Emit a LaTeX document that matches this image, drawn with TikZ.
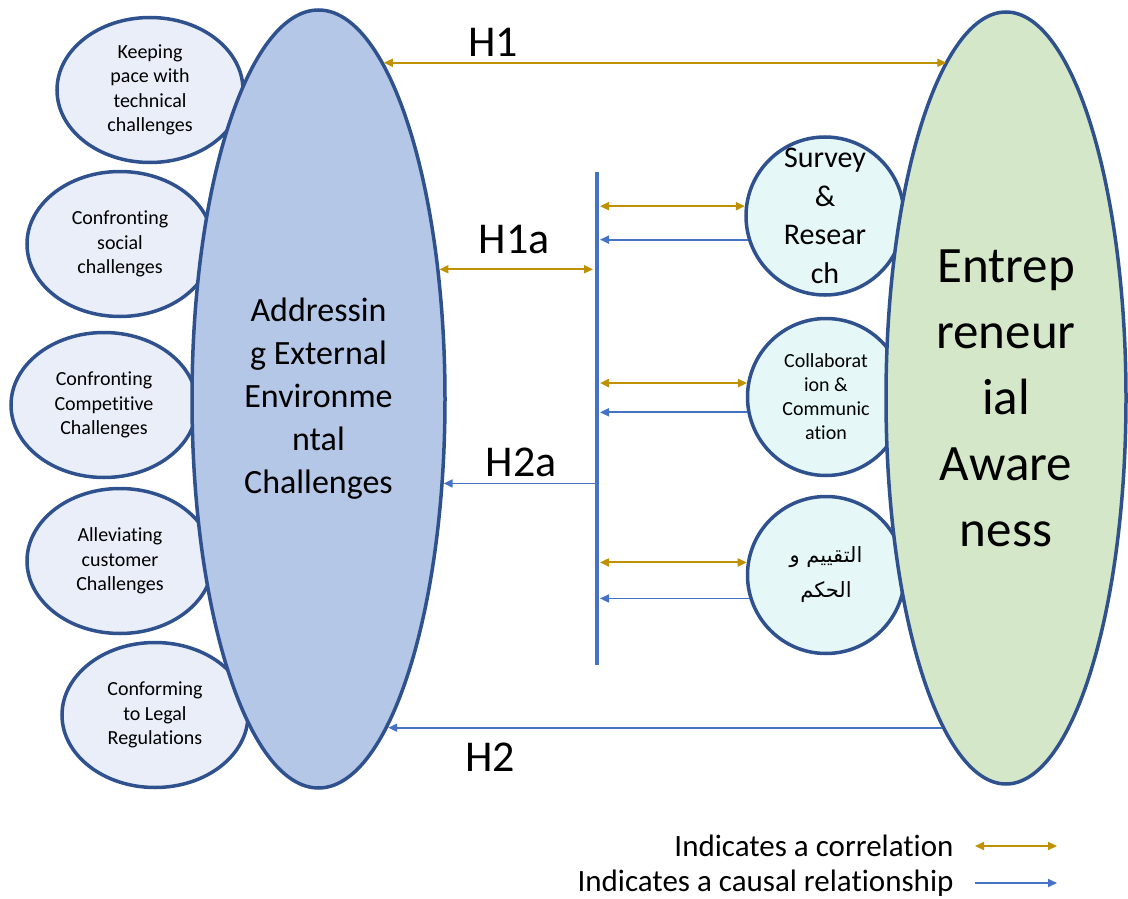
\documentclass[tikz,border=0pt]{standalone}
\usepackage{fontspec}
\setmainfont{Carlito}[Ligatures=NoCommon]
\newfontfamily\arabicfont[Script=Arabic]{DejaVu Sans}
\TeXXeTstate=1
\usetikzlibrary{shapes.geometric,arrows.meta}
\definecolor{edgeblue}{HTML}{2F528F}
\definecolor{addrfill}{HTML}{B4C7E7}
\definecolor{chalfill}{HTML}{E9EEF8}
\definecolor{awarefill}{HTML}{D4E7C8}
\definecolor{topicfill}{HTML}{E6F7F7}
\definecolor{corrgold}{HTML}{BF9000}
\definecolor{causblue}{HTML}{4472C4}

\begin{document}
\begin{tikzpicture}[x=1pt,y=-1pt,
    chal/.style={ellipse, draw=edgeblue, line width=3.5pt, fill=chalfill, minimum width=186pt, minimum height=145pt, inner sep=0pt, align=center, font=\fontsize{20}{24.5}\selectfont},
    topic/.style={circle, draw=edgeblue, line width=3.5pt, fill=topicfill, minimum size=157pt, inner sep=0pt, align=center},
    corr/.style={draw=corrgold, line width=2pt, {Triangle[length=9pt,width=8pt]}-{Triangle[length=9pt,width=8pt]}},
    caus/.style={draw=causblue, line width=1.8pt, -{Triangle[length=9pt,width=8pt]}},
    hyp/.style={font=\fontsize{44}{50}\selectfont}]
       \useasboundingbox (0,0) rectangle (1128,899);

       % challenges on the left
       \node[chal] (tech) at (150,90) {Keeping\\pace with\\technical\\challenges};
       \node[chal] (social) at (120,244) {Confronting\\social\\challenges};
       \node[chal] (compet) at (104,405) {Confronting\\Competitive\\Challenges};
       \node[chal] (custom) at (120,561) {Alleviating\\customer\\Challenges};
       \node[chal] (legal) at (155,715) {Conforming\\to Legal\\Regulations};
       \node[ellipse, draw=edgeblue, line width=3.5pt, fill=addrfill, minimum width=253pt, minimum height=778pt, inner sep=0pt, align=center, font=\fontsize{34}{43}\selectfont] (addr) at (318.5,399) {Addressin\\g External\\Environme\\ntal\\Challenges};

       % dimensions on the right
       \node[topic, font=\fontsize{30}{38.5}\selectfont] (survey) at (825,216) {Survey\\\&\\Resear\\ch};
       \node[topic, font=\fontsize{20}{24}\selectfont] (collab) at (826,397) {Collaborat\\ion \&\\Communic\\ation};
       \node[topic, font=\fontsize{21}{35}\selectfont\arabicfont] (judge) at (826,575) {\beginR التقييم و\endR\\\beginR الحكم\endR};
       \node[ellipse, draw=edgeblue, line width=3.5pt, fill=awarefill, minimum width=240pt, minimum height=772pt, inner sep=0pt, align=center, font=\fontsize{51}{66}\selectfont] (entre) at (1006,398) {Entrep\\reneur\\ial\\Aware\\ness};

       % vertical bar
       \coordinate (bartop) at (597,172);
       \coordinate (barbot) at (597,665);
       \draw[causblue, line width=4pt] (bartop) -- (barbot);

       \draw[corr] (survey.173 -| bartop) [shorten <=3pt] -- (survey.173);
       \draw[caus, shorten >=3pt] (survey.197) -- (survey.197 -| bartop);
       \draw[corr] (collab.170 -| bartop) [shorten <=3pt] -- (collab.170);
       \draw[caus, shorten >=3pt] (collab.191) -- (collab.191 -| bartop);
       \draw[corr] (judge.171 -| bartop) [shorten <=3pt] -- (judge.171);
       \draw[caus, shorten >=3pt] (judge.197) -- (judge.197 -| bartop);

       % hypotheses
       \draw[corr] (addr.79) -- (addr.79 -| entre.100);
       \node[hyp] (labH1) at (493,42) {H1};
       \draw[corr, shorten >=4pt] (addr.47) -- (addr.47 -| bartop);
       \node[hyp] (labH1a) at (514,240) {H1a};
       \draw[caus] (addr.-34 -| bartop) -- (addr.-34);
       \node[hyp] (labH2a) at (521,462) {H2a};
       \draw[caus] (entre.259) -- (entre.259 -| addr.-78);
       \node[hyp] (labH2) at (490,757) {H2};

       % legend
       \node[anchor=east, font=\fontsize{31}{36}\selectfont] (corrtxt) at (957,846) {Indicates a correlation};
       \node[anchor=east, font=\fontsize{31}{36}\selectfont] (caustxt) at (957,883) {Indicates a causal relationship};
       \coordinate (corrA) at (975,846);
       \coordinate (corrB) at (1057,846);
       \coordinate (causA) at (975,883);
       \coordinate (causB) at (1057,883);
       \draw[corr] (corrA) -- (corrB);
       \draw[caus] (causA) -- (causB);
\end{tikzpicture}
\end{document}
